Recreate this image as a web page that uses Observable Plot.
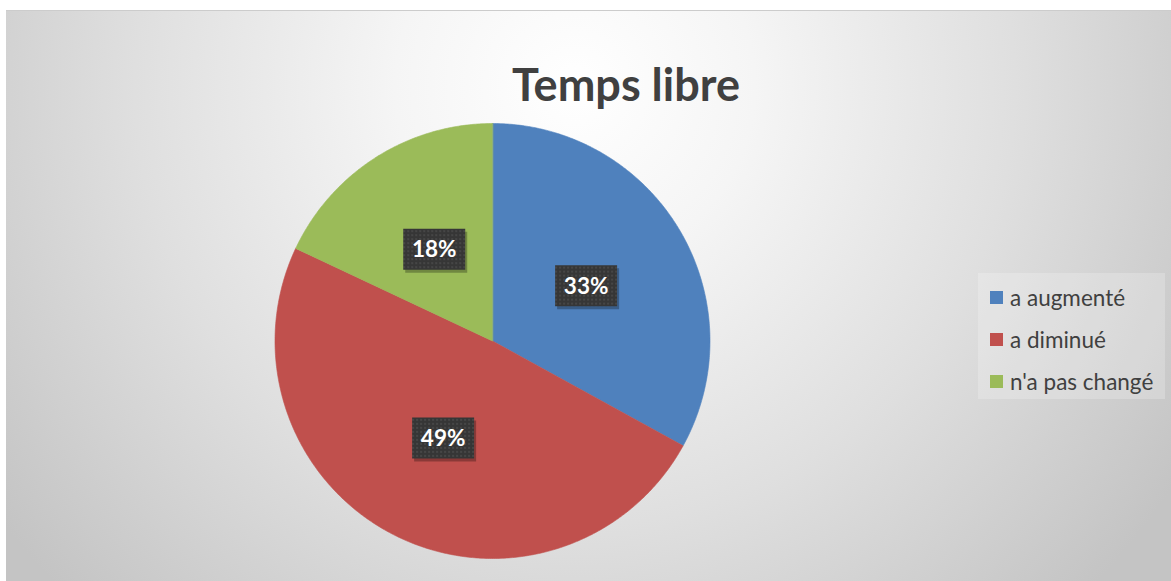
<!DOCTYPE html>
<html>
<head>
<meta charset="utf-8">
<script src="https://cdn.jsdelivr.net/npm/d3@7"></script>
<script src="https://cdn.jsdelivr.net/npm/@observablehq/plot@0.6"></script>
<style>
  html, body { margin: 0; padding: 0; background: #ffffff; }
  #frame {
    position: absolute; left: 6px; top: 10px; width: 1165px; height: 571px;
    border-top: 1px solid #cccccc; box-sizing: border-box; overflow: hidden;
    background: radial-gradient(circle at 569px 75px, #ffffff 0px, #f5f5f5 180px, #dfdfdf 440px, #c4c4c4 720px);
    font-family: Lato, "Open Sans", sans-serif;
  }
  #title {
    position: absolute; left: 0; width: 1240px; top: 51px; text-align: center;
    font: bold 45px/45px Lato, sans-serif; color: #404040;
  }
  #chart { position: absolute; left: 0; top: -1px; }
  #legend {
    position: absolute; left: 972px; top: 262px; width: 187px; height: 126px;
    background: rgba(255,255,255,0.22); box-sizing: border-box; padding-top: 3px;
  }
  .row { height: 42px; display: flex; align-items: center; padding-left: 12px; }
  .sw { width: 13px; height: 13px; margin-right: 7px; flex: none; }
  .lb { font: 22.5px Lato, sans-serif; color: #404040; white-space: nowrap; }
</style>
</head>
<body>
<svg width="0" height="0" style="position:absolute">
  <defs>
    <pattern id="dots" width="4" height="4" patternUnits="userSpaceOnUse">
      <rect width="4" height="4" fill="#363636"></rect>
      <circle cx="2" cy="2" r="0.9" fill="#4e4e4e"></circle>
    </pattern>
  </defs>
</svg>
<div id="frame">
  <div id="chart"></div>
  <div id="title"></div>
  <div id="legend"></div>
</div>
<script>
// ---- data ----
const chartTitle = "Temps libre";
const categories = ["a augmenté", "a diminué", "n'a pas changé"];
const values = [33, 49, 18];
const colors = ["#4f81bd", "#c0504d", "#9bbb59"];

// ---- layout (pixels) ----
const W = 1165, H = 571, cx = 486, cy = 330.5, R = 217.5;
const labelRadius = 0.5;

const total = d3.sum(values);
let acc = 0;
const slices = categories.map((c, i) => {
  const a0 = acc / total * 2 * Math.PI;
  acc += values[i];
  const a1 = acc / total * 2 * Math.PI;
  return {cat: c, value: values[i], a0, a1};
});

// polygon vertices of each slice (angle clockwise from top)
const polyPts = [];
for (const s of slices) {
  polyPts.push({cat: s.cat, x: 0, y: 0});
  const n = Math.max(2, Math.ceil((s.a1 - s.a0) / (2 * Math.PI) * 720));
  for (let k = 0; k <= n; k++) {
    const a = s.a0 + (s.a1 - s.a0) * k / n;
    polyPts.push({cat: s.cat, x: Math.sin(a), y: Math.cos(a)});
  }
}

const labels = slices.map(s => {
  const m = (s.a0 + s.a1) / 2;
  return {cat: s.cat, text: s.value + "%", x: labelRadius * Math.sin(m), y: labelRadius * Math.cos(m)};
});

const box = {draw(ctx) { ctx.rect(-31, -20.5, 62, 41); }};

const plot = Plot.plot({
  width: W, height: H, margin: 0,
  x: {domain: [-cx / R, (W - cx) / R], axis: null},
  y: {domain: [-(H - cy) / R, cy / R], axis: null},
  color: {domain: categories, range: colors},
  style: {background: "transparent", overflow: "visible"},
  marks: [
    Plot.line(polyPts, {x: "x", y: "y", z: "cat", fill: "cat", stroke: "cat", strokeWidth: 0.6, curve: "linear-closed"}),
    Plot.dot(labels, {x: "x", y: "y", symbol: box, r: 10, fill: "rgba(0,0,0,0.28)", stroke: "none", dx: 2, dy: 3}),
    Plot.dot(labels, {x: "x", y: "y", symbol: box, r: 10, fill: "url(#dots)", stroke: "none"}),
    Plot.text(labels, {x: "x", y: "y", text: "text", fill: "white", fontSize: 22.5, fontWeight: "bold", fontFamily: "Lato, sans-serif", dy: 1})
  ]
});
document.getElementById("chart").appendChild(plot);
document.getElementById("title").textContent = chartTitle;

const legend = document.getElementById("legend");
categories.forEach((c, i) => {
  const row = document.createElement("div");
  row.className = "row";
  const sw = document.createElement("div");
  sw.className = "sw";
  sw.style.background = colors[i];
  const lb = document.createElement("div");
  lb.className = "lb";
  lb.textContent = c;
  row.appendChild(sw); row.appendChild(lb);
  legend.appendChild(row);
});
</script>
</body>
</html>
